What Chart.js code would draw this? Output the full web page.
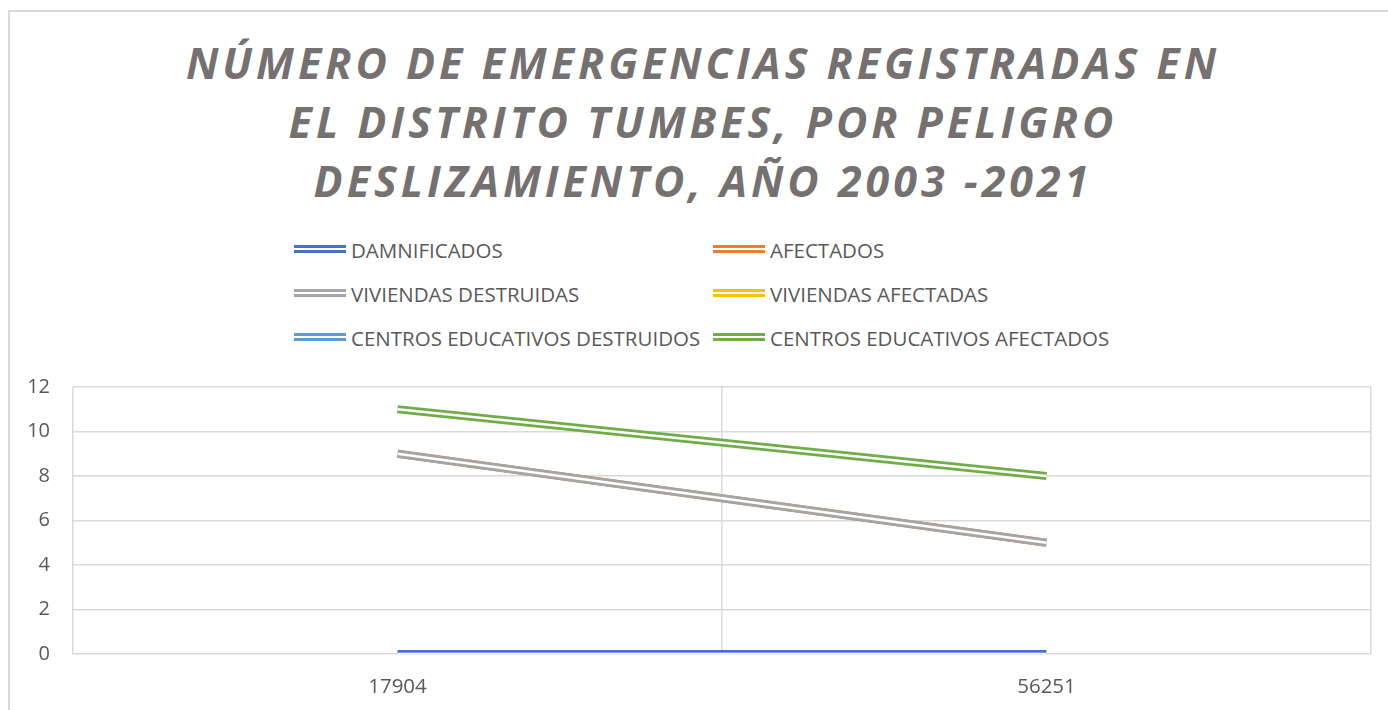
<!DOCTYPE html>
<html>
<head>
<meta charset="utf-8">
<script src="https://cdn.jsdelivr.net/npm/chart.js@4.4.1/dist/chart.umd.min.js"></script>
<style>
  html, body { margin: 0; padding: 0; background: #fff; }
  body { width: 1388px; height: 710px; position: relative; overflow: hidden; font-family: "Open Sans", sans-serif; }
  #frame { position: absolute; left: 8px; top: 10px; width: 1400px; height: 720px; border-top: 2px solid #d9d9d9; border-left: 2px solid #d9d9d9; box-sizing: border-box; }
  #title { position: absolute; left: 9px; width: 1388px; top: 33px; text-align: center; color: #767171; font-weight: 700; font-style: italic; font-size: 43px; line-height: 59px; letter-spacing: 4px; }
  .leg { position: absolute; height: 24px; font-size: 20.5px; color: #595959; line-height: 24px; white-space: nowrap; }
  .leg .sw { position: absolute; left: 0; top: 7px; width: 52px; height: 3px; }
  .leg .sw2 { position: absolute; left: 0; top: 12px; width: 52px; height: 3px; }
  .leg .tx { position: absolute; left: 57px; top: 0; }
  #c { position: absolute; left: 0; top: 0; }
</style>
</head>
<body>
<div id="frame"></div>
<div id="title">NÚMERO DE EMERGENCIAS REGISTRADAS EN<br>EL DISTRITO TUMBES, POR PELIGRO<br>DESLIZAMIENTO, AÑO 2003 -2021</div>
<div id="legend"></div>
<canvas id="c" width="1388" height="710"></canvas>
<script>
const categories = ["17904", "56251"];
const seriesNames = ["DAMNIFICADOS", "AFECTADOS", "VIVIENDAS DESTRUIDAS", "VIVIENDAS AFECTADAS", "CENTROS EDUCATIVOS DESTRUIDOS", "CENTROS EDUCATIVOS AFECTADOS"];
const damnificados = [0, 0];
const afectados = [9, 5];
const viviendasDestruidas = [9, 5];
const viviendasAfectadas = [null, null];
const centrosDestruidos = [null, null];
const centrosAfectados = [11, 8];
const yTicks = [0, 2, 4, 6, 8, 10, 12];
const seriesColors = ["#4472C4", "#ED7D31", "#A5A5A5", "#FFC000", "#5B9BD5", "#70AD47"];
const seriesValues = [damnificados, afectados, viviendasDestruidas, viviendasAfectadas, centrosDestruidos, centrosAfectados];

// legend (HTML, two columns)
const legend = document.getElementById('legend');
const legPos = [[294, 238], [713, 238], [294, 282], [713, 282], [294, 326], [713, 326]];
seriesNames.forEach((n, i) => {
  const d = document.createElement('div');
  d.className = 'leg';
  d.style.left = legPos[i][0] + 'px';
  d.style.top = legPos[i][1] + 'px';
  d.innerHTML = '<div class="sw" style="background:' + seriesColors[i] + '"></div><div class="sw2" style="background:' + seriesColors[i] + '"></div><div class="tx">' + n + '</div>';
  legend.appendChild(d);
});

// datasets: each series is a colored thick line with a white thin center (double line)
const datasets = [];
const N = seriesNames.length;
seriesValues.forEach((vals, i) => {
  datasets.push({
    label: seriesNames[i], data: vals, borderColor: seriesColors[i], borderWidth: 8,
    pointRadius: 0, borderCapStyle: 'butt', order: 2 * (N - 1 - i) + 1, spanGaps: false
  });
  datasets.push({
    label: seriesNames[i] + ' (centro)', data: vals, borderColor: '#ffffff', borderWidth: 2.4,
    pointRadius: 0, borderCapStyle: 'butt', order: 2 * (N - 1 - i), spanGaps: false
  });
});

new Chart(document.getElementById('c'), {
  type: 'line',
  data: { labels: categories, datasets: datasets },
  options: {
    responsive: false, animation: false,
    layout: { padding: { top: 387, right: 17, bottom: 0, left: 0 } },
    plugins: { legend: { display: false }, title: { display: false }, tooltip: { enabled: false } },
    scales: {
      x: {
        offset: true,
        grid: { offset: true, color: '#d9d9d9', lineWidth: 1.5, drawTicks: false },
        border: { display: false },
        ticks: { color: '#595959', font: { family: 'Open Sans', size: 20.5 }, padding: 21 },
        afterFit: (s) => { s.height = 56; }
      },
      y: {
        min: 0, max: 12,
        afterBuildTicks: (s) => { s.ticks = yTicks.map(v => ({ value: v })); },
        grid: { color: '#d9d9d9', lineWidth: 1.5, drawTicks: false },
        border: { display: false },
        ticks: { color: '#595959', font: { family: 'Open Sans', size: 20 }, padding: 23 },
        afterFit: (s) => { s.width = 73; }
      }
    }
  }
});
</script>
</body>
</html>
